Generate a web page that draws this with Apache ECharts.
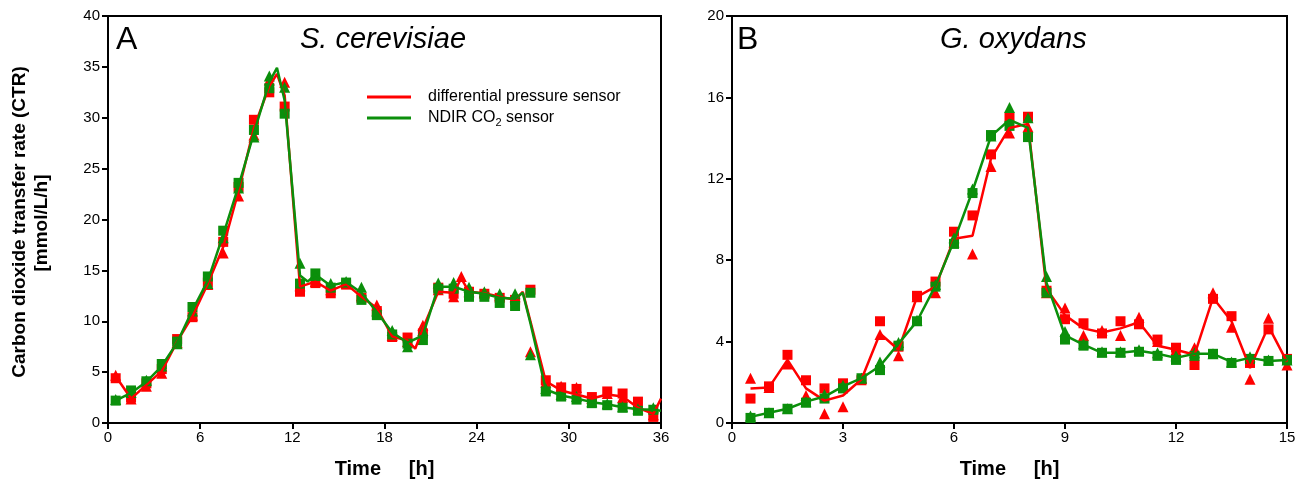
<!DOCTYPE html>
<html>
<head>
<meta charset="utf-8">
<script src="https://cdn.jsdelivr.net/npm/echarts@6/dist/echarts.min.js"></script>
<style>
  html, body { margin: 0; padding: 0; background: #fff; }
  #chart { width: 1307px; height: 486px; }
</style>
</head>
<body>
<div id="chart"></div>
<script>
// Panel A: S. cerevisiae (time in h, CTR in mmol/L/h)
const timesA = [0.5, 1.5, 2.5, 3.5, 4.5, 5.5, 6.5, 7.5, 8.5, 9.5, 10.5, 11.5, 12.5, 13.5, 14.5, 15.5, 16.5, 17.5,
  18.5, 19.5, 20.5, 21.5, 22.5, 23.5, 24.5, 25.5, 26.5, 27.5, 28.5, 29.5, 30.5, 31.5, 32.5, 33.5, 34.5, 35.5]
const redSqA = [4.4, 2.5, 3.9, 5.3, 8.25, 10.4, 13.8, 17.8, 23.2, 29.8, 32.5, 31.1, 12.9, 13.75, 12.75, 13.6, 12.3, 11.0,
  8.45, 8.4, 8.8, 13.3, 12.7, 12.9, 12.7, 12.3, 12.1, 13.1, 4.2, 3.5, 3.35, 2.55, 3.1, 2.9, 2.1, 0.6]
const redTriA = [4.7, 2.35, 3.6, 4.9, 7.9, 10.6, 13.6, 16.7, 22.3, 28.3, 33.7, 33.5, 13.5, 13.9, 13.1, 13.7, 12.5, 11.6,
  8.6, 8.0, 9.6, 13.1, 12.4, 12.9, 12.8, 12.5, 12.4, 7.0, 4.0, 3.6, 3.5, 2.4, 2.9, 2.5, 1.8, 0.8]
const redTriExtraA = [[23.0, 14.4]]
const greenSqA = [2.2, 3.2, 4.1, 5.8, 8.0, 11.4, 14.4, 18.9, 23.6, 28.8, 32.9, 30.4, 13.7, 14.7, 13.3, 13.8, 12.1, 10.6,
  8.7, 7.8, 8.15, 13.2, 13.2, 12.4, 12.4, 11.8, 11.5, 12.8, 3.1, 2.6, 2.3, 1.95, 1.75, 1.5, 1.2, 1.3]
const greenTriA = [2.3, 3.0, 4.2, 5.6, 7.8, 11.0, 13.7, 18.2, 23.1, 28.1, 34.1, 33.0, 15.7, 14.5, 13.7, 13.9, 13.35, 11.0,
  9.1, 7.5, 9.1, 13.75, 13.8, 13.35, 12.9, 12.7, 12.7, 6.7, 3.4, 2.8, 2.6, 2.1, 1.9, 1.6, 1.4, 1.5]

const redLineTA = [0.5, 1.5, 2.5, 3.5, 4.5, 5.5, 6.5, 7.5, 8.5, 9.5, 10.5, 11.0, 11.5, 12.5, 13.5, 14.5, 15.5, 16.5, 17.5,
  18.5, 19.5, 20.0, 20.5, 21.5, 22.5, 23.0, 23.5, 24.5, 25.5, 26.5, 27.0, 27.5, 28.5, 29.5, 30.5, 31.5, 32.5, 33.5, 34.5, 35.5, 36.0]
const redLineA = [4.6, 2.4, 3.75, 5.1, 8.0, 10.5, 13.7, 17.3, 22.8, 29.0, 33.1, 34.3, 32.2, 13.4, 13.9, 13.0, 13.65, 12.4, 11.3,
  8.5, 8.1, 7.3, 9.3, 12.9, 12.8, 14.2, 12.9, 12.75, 12.4, 12.1, 12.9, 10.0, 4.1, 3.2, 2.8, 2.4, 2.8, 2.6, 1.5, 0.9, 2.4]
const greenLineTA = [0.5, 1.5, 2.5, 3.5, 4.5, 5.5, 6.5, 7.5, 8.5, 9.5, 10.5, 11.0, 11.5, 12.5, 13.0, 13.5, 14.5, 15.5, 16.5, 17.5,
  18.5, 19.5, 20.5, 21.5, 22.5, 23.5, 24.5, 25.5, 26.5, 27.0, 27.5, 28.5, 29.5, 30.5, 31.5, 32.5, 33.5, 34.5, 35.5, 36.0]
const greenLineA = [2.2, 2.95, 4.05, 5.6, 7.9, 11.1, 14.0, 18.5, 23.3, 28.5, 33.5, 34.9, 31.7, 14.5, 13.9, 14.6, 13.5, 13.85, 12.8, 10.9,
  8.9, 7.9, 8.6, 13.4, 13.4, 12.9, 12.7, 12.3, 12.2, 12.8, 9.8, 3.3, 2.7, 2.4, 2.05, 1.85, 1.55, 1.35, 1.3, 1.2]

// Panel B: G. oxydans
const timesB = [0.5, 1, 1.5, 2, 2.5, 3, 3.5, 4, 4.5, 5, 5.5, 6, 6.5, 7, 7.5, 8, 8.5, 9, 9.5, 10,
  10.5, 11, 11.5, 12, 12.5, 13, 13.5, 14, 14.5, 15]
const redSqB = [1.2, 1.8, 3.35, 2.1, 1.7, 1.95, 2.1, 5.0, 3.75, 6.25, 6.95, 9.4, 10.2, 13.2, 15.0, 15.05, 6.5, 5.1, 4.9, 4.4,
  5.0, 4.85, 4.1, 3.7, 2.85, 6.1, 5.25, 2.95, 4.6, 3.15]
const redTriB = [2.2, 1.75, 2.9, 1.35, 0.45, 0.8, 2.2, 4.35, 3.3, 6.2, 6.4, 8.9, 8.3, 12.6, 14.25, 14.55, 6.4, 5.65, 4.3, 4.55,
  4.3, 5.2, 4.0, 3.6, 3.7, 6.4, 4.7, 2.15, 5.15, 2.85]
const redLineB = [1.7, 1.75, 3.1, 1.7, 1.1, 1.35, 2.15, 4.4, 3.6, 6.2, 6.7, 9.05, 9.2, 13.0, 14.5, 14.7, 6.6, 5.3, 4.65, 4.45,
  4.65, 4.95, 3.8, 3.6, 3.35, 6.15, 5.0, 2.7, 4.75, 3.0]
const greenSqB = [0.25, 0.5, 0.7, 1.0, 1.2, 1.7, 2.2, 2.6, 3.8, 5.0, 6.7, 8.8, 11.3, 14.15, 14.6, 14.05, 6.4, 4.1, 3.8, 3.45,
  3.45, 3.5, 3.3, 3.1, 3.3, 3.4, 2.95, 3.15, 3.05, 3.1]
const greenTriB = [0.35, 0.5, 0.7, 1.05, 1.4, 1.85, 2.2, 3.0, 3.95, 5.05, 6.8, 9.1, 11.5, 14.1, 15.5, 15.0, 7.2, 4.5, 3.9, 3.5,
  3.5, 3.6, 3.45, 3.3, 3.45, 3.4, 3.0, 3.25, 3.1, 3.1]
const greenLineB = [0.3, 0.5, 0.7, 1.05, 1.3, 1.8, 2.2, 2.8, 3.9, 5.0, 6.75, 8.95, 11.4, 14.1, 14.9, 14.5, 6.9, 4.3, 3.85, 3.45,
  3.45, 3.55, 3.4, 3.2, 3.4, 3.4, 3.0, 3.2, 3.05, 3.1]

const RED = '#ff0000'
const GREEN = '#0b8f0b'
const FONT = '"Liberation Sans", Arial, sans-serif'
const RED_NAME = 'differential pressure sensor'
const GREEN_NAME = 'NDIR CO2 sensor'

const zip = (t, v) => t.map((x, i) => [x, v[i]])

function xAxisOf(gridIndex, max, interval) {
  return {
    gridIndex, type: 'value', min: 0, max, interval,
    name: 'Time     [h]', nameLocation: 'middle', nameGap: 36,
    nameTextStyle: { fontFamily: FONT, fontSize: 20, fontWeight: 'bold', color: '#000' },
    axisLine: { lineStyle: { color: '#000', width: 2 } },
    axisTick: { length: 6, lineStyle: { color: '#000', width: 2 } },
    axisLabel: { fontFamily: FONT, fontSize: 15, color: '#000', margin: 7 },
    splitLine: { show: false }
  }
}

function yAxisOf(gridIndex, max, interval) {
  return {
    gridIndex, type: 'value', min: 0, max, interval,
    axisLine: { lineStyle: { color: '#000', width: 2 } },
    axisTick: { length: 6, lineStyle: { color: '#000', width: 2 } },
    axisLabel: { fontFamily: FONT, fontSize: 15, color: '#000', margin: 8 },
    splitLine: { show: false }
  }
}

function markers(idx, data, color, symbol, size) {
  return {
    type: 'scatter', xAxisIndex: idx, yAxisIndex: idx, data,
    symbol, symbolSize: size, itemStyle: { color, opacity: 1 }, silent: true, z: 3
  }
}

function line(idx, name, data, color) {
  return {
    type: 'line', name, xAxisIndex: idx, yAxisIndex: idx, data,
    showSymbol: false, lineStyle: { color, width: 2.5 }, itemStyle: { color }, z: 4
  }
}

const chart = echarts.init(document.getElementById('chart'))
chart.setOption({
  animation: false,
  grid: [
    { left: 108, top: 16, width: 553, height: 407, show: true, borderColor: '#000', borderWidth: 2 },
    { left: 732, top: 16, width: 555, height: 407, show: true, borderColor: '#000', borderWidth: 2 }
  ],
  xAxis: [xAxisOf(0, 36, 6), xAxisOf(1, 15, 3)],
  yAxis: [yAxisOf(0, 40, 5), yAxisOf(1, 20, 4)],
  legend: {
    data: [RED_NAME, GREEN_NAME],
    orient: 'vertical', left: 362, top: 84,
    itemWidth: 44, itemHeight: 3, itemGap: 5, icon: 'rect',
    formatter: name => name.replace('CO2', 'CO{sub|2}'),
    textStyle: {
      fontFamily: FONT, fontSize: 16, color: '#000', padding: [0, 0, 0, 12],
      rich: { sub: { fontFamily: FONT, fontSize: 11, color: '#000', padding: [9, 0, 0, 0] } }
    }
  },
  graphic: [
    { type: 'text', left: 116, top: 24, style: { text: 'A', font: '32px ' + FONT, fill: '#000' } },
    { type: 'text', left: 300, top: 25, style: { text: 'S. cerevisiae', font: 'italic 29px ' + FONT, fill: '#000' } },
    { type: 'text', left: 737, top: 24, style: { text: 'B', font: '32px ' + FONT, fill: '#000' } },
    { type: 'text', left: 940, top: 25, style: { text: 'G. oxydans', font: 'italic 29px ' + FONT, fill: '#000' } },
    {
      type: 'text', x: 20, y: 222, rotation: Math.PI / 2,
      style: { text: 'Carbon dioxide transfer rate (CTR)', font: 'bold 19px ' + FONT, fill: '#000', align: 'center', verticalAlign: 'middle' }
    },
    {
      type: 'text', x: 42, y: 223, rotation: Math.PI / 2,
      style: { text: '[mmol/L/h]', font: 'bold 19px ' + FONT, fill: '#000', align: 'center', verticalAlign: 'middle' }
    }
  ],
  series: [
    markers(0, zip(timesA, redSqA), RED, 'rect', 10),
    markers(0, zip(timesA, redTriA).concat(redTriExtraA), RED, 'triangle', 11),
    markers(0, zip(timesA, greenSqA), GREEN, 'rect', 10),
    markers(0, zip(timesA, greenTriA), GREEN, 'triangle', 11),
    line(0, RED_NAME, zip(redLineTA, redLineA), RED),
    line(0, GREEN_NAME, zip(greenLineTA, greenLineA), GREEN),
    markers(1, zip(timesB, redSqB), RED, 'rect', 10),
    markers(1, zip(timesB, redTriB), RED, 'triangle', 11),
    markers(1, zip(timesB, greenSqB), GREEN, 'rect', 10),
    markers(1, zip(timesB, greenTriB), GREEN, 'triangle', 11),
    line(1, RED_NAME, zip(timesB, redLineB), RED),
    line(1, GREEN_NAME, zip(timesB, greenLineB), GREEN)
  ]
})
</script>
</body>
</html>
